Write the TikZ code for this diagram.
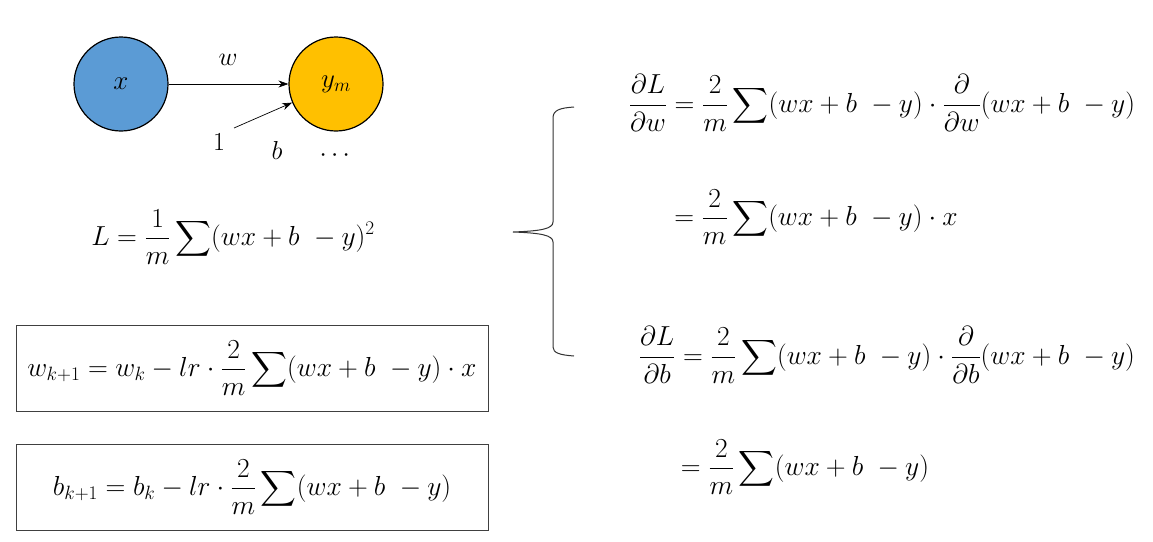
\RequirePackage{fix-cm}
\documentclass[tikz,border=0pt]{standalone}
\usepackage{amsmath}
\usetikzlibrary{arrows.meta}
\definecolor{nblue}{HTML}{5B9BD5}
\definecolor{ngold}{HTML}{FFC000}
\begin{document}
\begin{tikzpicture}[x=1pt,y=-1pt,
  neuron/.style={circle,draw=black,line width=1.2pt,minimum size=94pt,inner sep=0pt,font=\fontsize{27}{30}\selectfont},
  eq/.style={inner sep=0pt,font=\fontsize{27.5}{31}\selectfont},
  lbl/.style={inner sep=0pt,font=\fontsize{26}{30}\selectfont},
  framebox/.style={draw=black!75,line width=1pt,minimum width=472pt,minimum height=86pt,inner sep=0pt,font=\fontsize{27.5}{31}\selectfont},
  link/.style={-{Stealth[length=10pt,width=7pt]},line width=0.7pt},
  bracestyle/.style={line width=1pt,draw=black!80}]
\useasboundingbox (0,0) rectangle (1153,541);

% neurons
\node[neuron,fill=nblue] (x) at (121,84) {$x$};
\node[neuron,fill=ngold] (ym) at (336,84) {$y_m$};
\draw[link] (x) -- (ym);
\node[lbl] (wl) at (228,60) {$w$};
\coordinate (one) at (234,128);
\draw[link] (one) -- (ym.203);
\node[lbl] (onel) at (219,142) {$1$};
\node[lbl] (bl) at (277,150) {$b$};
\node[lbl] (dots) at (337,156) {$\cdots$};

% loss
\node[eq] (loss) at (233,237) {$\displaystyle L=\frac{1}{m}\sum(wx+b\ -y)^2$};

% update boxes
\node[framebox] (wupd) at (252,368) {$\displaystyle w_{k+1}=w_k-lr\cdot\frac{2}{m}\sum(wx+b\ -y)\cdot x$};
\node[framebox] (bupd) at (252,487) {$\displaystyle b_{k+1}=b_k-lr\cdot\frac{2}{m}\sum(wx+b\ -y)$};

% brace
\draw[bracestyle] (574,107) .. controls (560,108) and (553,110) .. (553,118)
  -- (553,222) .. controls (553,229) and (540,231) .. (513,232)
  .. controls (540,233) and (553,235) .. (553,242)
  -- (553,347) .. controls (553,353) and (560,355) .. (574,356);

% derivatives
\node[eq] (dw) at (882,103) {$\displaystyle \frac{\partial L}{\partial w}=\frac{2}{m}\sum(wx+b\ -y)\cdot\frac{\partial}{\partial w}(wx+b\ -y)$};
\node[eq] (dw2) at (816,217) {$\displaystyle =\frac{2}{m}\sum(wx+b\ -y)\cdot x$};
\node[eq] (db) at (887,355) {$\displaystyle \frac{\partial L}{\partial b}=\frac{2}{m}\sum(wx+b\ -y)\cdot\frac{\partial}{\partial b}(wx+b\ -y)$};
\node[eq] (db2) at (805,467) {$\displaystyle =\frac{2}{m}\sum(wx+b\ -y)$};
\end{tikzpicture}
\end{document}
